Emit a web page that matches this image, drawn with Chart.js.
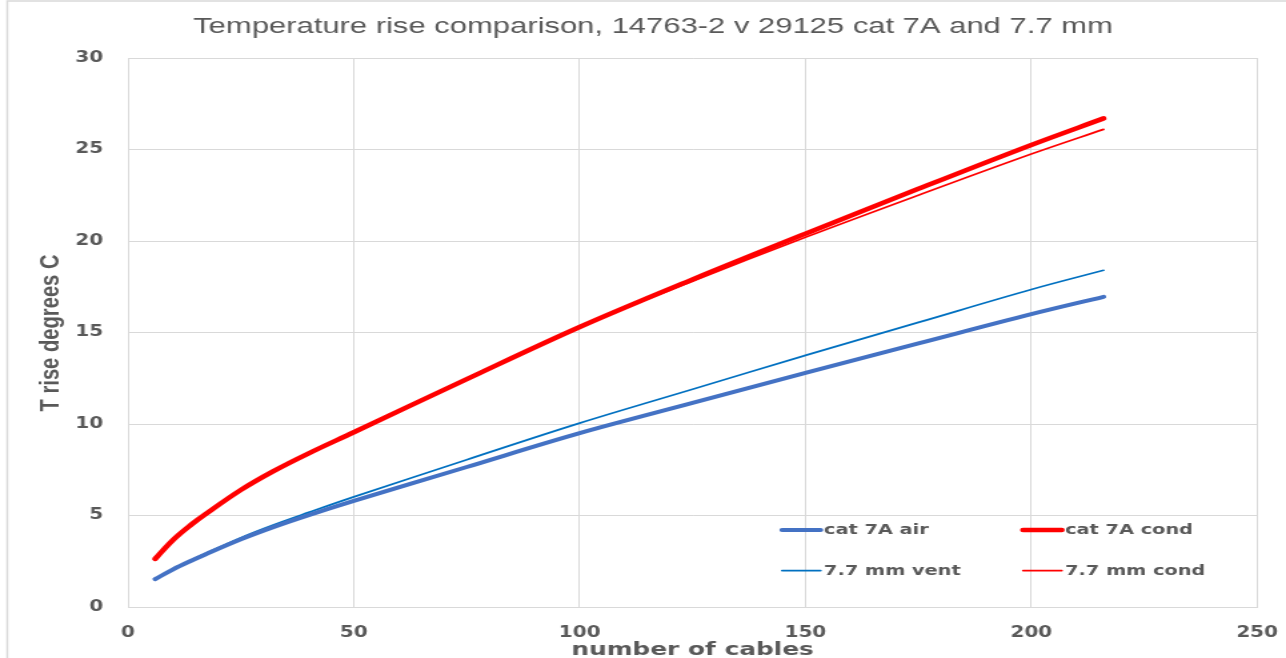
<!DOCTYPE html>
<html>
<head>
<meta charset="utf-8">
<script src="https://cdn.jsdelivr.net/npm/chart.js"></script>
<style>
  html, body { margin: 0; padding: 0; background: #fff; overflow: hidden; }
</style>
</head>
<body>
<!-- the original picture is stretched sideways, so the canvas is too (inline style so Chart.js keeps it) -->
<canvas id="chart" width="965" height="658" style="display:block;width:1286px;height:658px"></canvas>
<script>
// values
const cableCounts = [6, 10, 14, 17, 25, 32, 40, 50, 75, 100, 125, 150, 175, 200, 216];
const cat7aAir  = [1.52, 2.06, 2.53, 2.86, 3.7, 4.35, 5.02, 5.8, 7.65, 9.5, 11.15, 12.8, 14.4, 16.0, 16.95];
const cat7aCond = [2.63, 3.67, 4.5, 5.05, 6.4, 7.4, 8.4, 9.55, 12.45, 15.3, 17.9, 20.4, 22.85, 25.25, 26.7];
const mm77Vent  = [1.52, 2.07, 2.56, 2.91, 3.79, 4.47, 5.17, 6.02, 8.05, 10.05, 11.9, 13.75, 15.55, 17.35, 18.4];
const mm77Cond  = [2.63, 3.67, 4.5, 5.05, 6.4, 7.4, 8.4, 9.55, 12.45, 15.3, 17.8, 20.2, 22.5, 24.75, 26.1];
const seriesNames = ['cat 7A air', 'cat 7A cond', '7.7 mm vent', '7.7 mm cond'];
const titleText = 'Temperature rise comparison, 14763-2 v 29125 cat 7A and 7.7 mm';
const xTitle = 'number of cables';
const yTitle = 'T rise degrees C';

const grey = '#595959';
const gridGrey = '#d9d9d9';
const tickFont = { family: 'DejaVu Sans', weight: 'bold', size: 15 };

function points(ys) {
  return cableCounts.map((x, i) => ({ x: x, y: ys[i] }));
}

// draw text squeezed/stretched to a given width
function fitText(ctx, text, x, y, width, rot) {
  const w = ctx.measureText(text).width;
  ctx.save();
  ctx.translate(x, y);
  if (rot) ctx.rotate(rot);
  ctx.scale(width / w, 1);
  ctx.textAlign = 'center';
  ctx.fillText(text, 0, 0);
  ctx.restore();
}

const decorations = {
  id: 'decorations',
  afterDraw(chart) {
    const ctx = chart.ctx;
    const area = chart.chartArea;

    // outer frame (only left and top edges are inside the picture)
    ctx.save();
    ctx.strokeStyle = gridGrey;
    ctx.lineWidth = 1.5;
    ctx.beginPath();
    ctx.moveTo(5.5, 658);
    ctx.lineTo(5.5, 1);
    ctx.lineTo(965, 1);
    ctx.stroke();

    ctx.fillStyle = grey;
    ctx.textBaseline = 'alphabetic';
    ctx.font = '22px "Liberation Sans Narrow", "Liberation Sans", sans-serif';
    fitText(ctx, titleText, 490, 33, 690);

    ctx.font = 'bold 18px "DejaVu Sans"';
    fitText(ctx, xTitle, (area.left + area.right) / 2, 655, 182);

    ctx.textBaseline = 'middle';
    ctx.font = 'bold 20px "Liberation Sans Narrow", "Liberation Sans", sans-serif';
    fitText(ctx, yTitle, 38, 333, 157, -Math.PI / 2);

    // legend, two columns in the lower right of the plot
    const cols = [586.8, 767.7];
    const rows = [530, 570.5];
    ctx.font = 'bold 14.5px "DejaVu Sans"';
    ctx.textAlign = 'left';
    chart.data.datasets.forEach((ds, i) => {
      const lx = cols[i % 2];
      const ly = rows[Math.floor(i / 2)];
      ctx.strokeStyle = ds.borderColor;
      ctx.lineWidth = ds.borderWidth;
      ctx.lineCap = 'round';
      ctx.beginPath();
      ctx.moveTo(lx, ly);
      ctx.lineTo(lx + 29, ly);
      ctx.stroke();
      ctx.fillStyle = grey;
      ctx.fillText(ds.label, lx + 31.5, ly + 0.5);
    });
    ctx.restore();
  }
};

new Chart(document.getElementById('chart'), {
  type: 'line',
  data: {
    datasets: [
      { label: seriesNames[0], data: points(cat7aAir), borderColor: '#4472C4', borderWidth: 4 },
      { label: seriesNames[1], data: points(cat7aCond), borderColor: '#FF0000', borderWidth: 4.5 },
      { label: seriesNames[2], data: points(mm77Vent), borderColor: '#0070C0', borderWidth: 1.75 },
      { label: seriesNames[3], data: points(mm77Cond), borderColor: '#FF0000', borderWidth: 1.75 }
    ]
  },
  options: {
    responsive: false,
    animation: false,
    devicePixelRatio: 1,
    layout: { padding: { top: 58, right: 21.7, left: 0, bottom: 0 } },
    elements: {
      point: { radius: 0 },
      line: { tension: 0.35, borderCapStyle: 'round' }
    },
    plugins: {
      legend: { display: false },
      title: { display: false },
      tooltip: { enabled: false }
    },
    scales: {
      x: {
        type: 'linear',
        min: 0,
        max: 250,
        // gap under the axis comes from an invisible tick so the last label does not shrink the plot
        ticks: { stepSize: 50, color: grey, font: tickFont, padding: 0, maxRotation: 0 },
        grid: { color: gridGrey, drawTicks: true, tickLength: 17, tickColor: 'rgba(0,0,0,0)' },
        border: { color: gridGrey },
        afterFit(scale) { scale.height = 51; }
      },
      y: {
        min: 0,
        max: 30,
        ticks: { stepSize: 5, color: grey, font: tickFont, padding: 18.7 },
        grid: { color: gridGrey, drawTicks: false },
        border: { color: gridGrey },
        afterFit(scale) { scale.width = 96.05; }
      }
    }
  },
  plugins: [decorations]
});
</script>
</body>
</html>
